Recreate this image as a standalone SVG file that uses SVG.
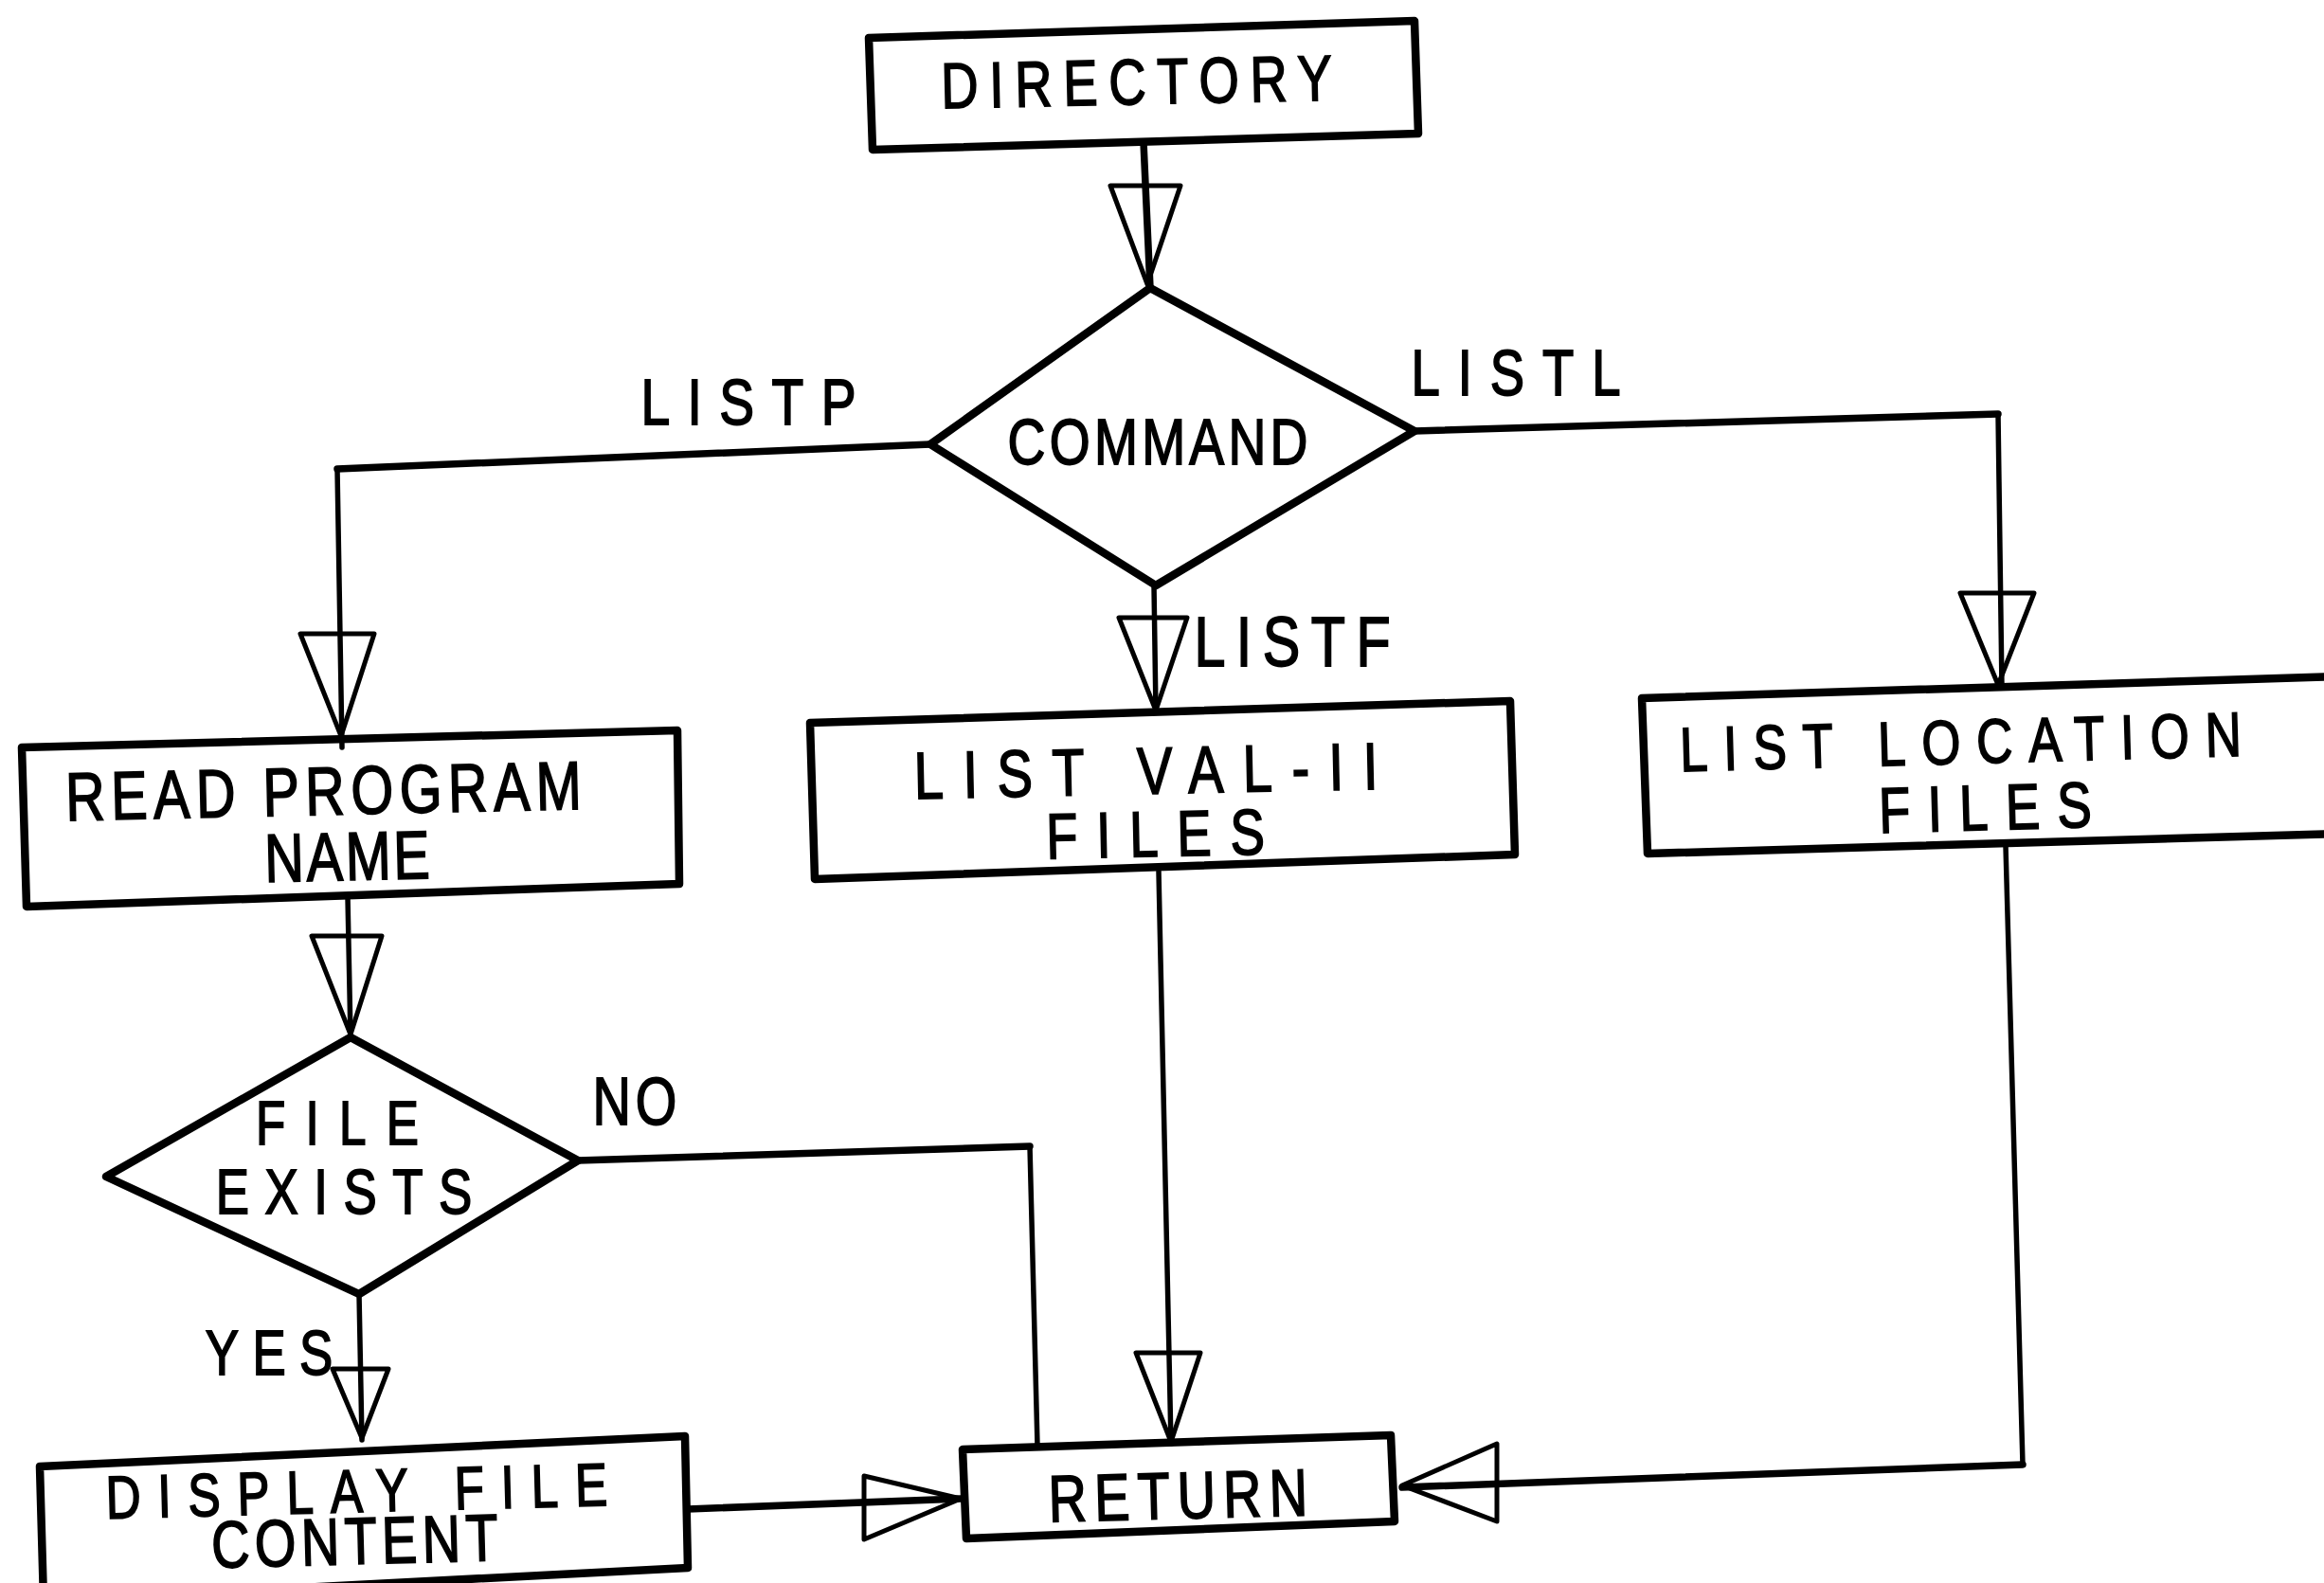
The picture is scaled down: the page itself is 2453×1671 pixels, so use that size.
<svg xmlns="http://www.w3.org/2000/svg" width="2453" height="1671" viewBox="0 0 2453 1671">
<style>
.box{fill:none;stroke:#000;stroke-width:8.5;stroke-linejoin:round}
.dia{fill:none;stroke:#000;stroke-width:8.5;stroke-linejoin:round}
.ln{fill:none;stroke:#000;stroke-width:7.5;stroke-linejoin:round;stroke-linecap:round}
.thin{fill:none;stroke:#000;stroke-width:5.5;stroke-linecap:round}
.ah{fill:none;stroke:#000;stroke-width:5;stroke-linejoin:round}
text{font-family:"Liberation Sans",Arial,sans-serif;fill:#000;stroke:#000;stroke-width:1.8;text-anchor:middle}
</style>
<rect width="2453" height="1671" fill="#fff"/>
<g id="connectors">
<path class="ln" d="M1207,150 L1214,304"/>
<polygon class="ah" points="1172,196 1246,196 1211,300"/>
<path class="ln" d="M982,469 L356,495"/>
<path class="thin" d="M356,495 L361,789"/>
<polygon class="ah" points="317,669 395,669 360,777"/>
<path class="thin" d="M1218,618 L1220,752"/>
<polygon class="ah" points="1181,652 1253,652 1220,750"/>
<path class="ln" d="M1493,455 L2109,437"/>
<path class="thin" d="M2109,437 L2113,726"/>
<polygon class="ah" points="2069,626 2147,626 2109,723"/>
<path class="thin" d="M367,947 L370,1095"/>
<polygon class="ah" points="329,988 403,988 370,1092"/>
<path class="ln" d="M610,1225 L1087,1210"/>
<path class="thin" d="M1087,1210 L1095,1526"/>
<path class="thin" d="M379,1366 L382,1520"/>
<polygon class="ah" points="351,1445 410,1445 382,1518"/>
<path class="ln" d="M726,1593 L1014,1582"/>
<polygon class="ah" points="912,1558 912,1625 1014,1582"/>
<path class="thin" d="M1223,920 L1236,1524"/>
<polygon class="ah" points="1199,1428 1267,1428 1236,1522"/>
<path class="thin" d="M2117,893 L2135,1546"/>
<path class="ln" d="M2135,1546 L1480,1570"/>
<polygon class="ah" points="1580,1524 1580,1606 1480,1568"/>
</g>
<g id="directory">
<polygon class="box" points="917,40 1493,22 1497,141 921,158"/>
<text transform="rotate(-1.2 1200 110) translate(1200 110) scale(0.8 1)" font-size="68" textLength="516" lengthAdjust="spacing">DIRECTORY</text>
</g>
<g id="command">
<polygon class="dia" points="1214,304 1493,455 1220,618 982,469"/>
<text transform="translate(1222 490) scale(0.8 1)" font-size="69" textLength="396" lengthAdjust="spacing">COMMAND</text>
</g>
<g id="label-listp"><text transform="translate(790 448) scale(0.8 1)" font-size="69" textLength="284" lengthAdjust="spacing">LISTP</text></g>
<g id="label-listl"><text transform="translate(1600 417) scale(0.8 1)" font-size="68" textLength="276" lengthAdjust="spacing">LISTL</text></g>
<g id="label-listf"><text transform="translate(1364 703) scale(0.8 1)" font-size="74" textLength="259" lengthAdjust="spacing">LISTF</text></g>
<g id="read-program">
<polygon class="box" points="23,789 715,771 717,933 28,957"/>
<text transform="rotate(-1.3 342 860) translate(342 860) scale(0.8 1)" font-size="72" textLength="681" lengthAdjust="spacing">READ PROGRAM</text>
<text transform="rotate(-1.3 367 929) translate(367 929) scale(0.8 1)" font-size="72" textLength="218" lengthAdjust="spacing">NAME</text>
</g>
<g id="list-val">
<polygon class="box" points="855,763 1594,740 1599,902 860,928"/>
<text transform="rotate(-1.2 1210 838) translate(1210 838) scale(0.8 1)" font-size="70" textLength="612" lengthAdjust="spacing">LIST VAL-II</text>
<text transform="rotate(-1.2 1220 904) translate(1220 904) scale(0.8 1)" font-size="68" textLength="288" lengthAdjust="spacing">FILES</text>
</g>
<g id="list-location">
<polygon class="box" points="1733,737 2470,714 2470,880 1739,901"/>
<text transform="rotate(-1.6 2070 806) translate(2070 806) scale(0.8 1)" font-size="66" textLength="741" lengthAdjust="spacing">LIST LOCATION</text>
<text transform="rotate(-1.6 2096 876) translate(2096 876) scale(0.8 1)" font-size="68" textLength="281" lengthAdjust="spacing">FILES</text>
</g>
<g id="file-exists">
<polygon class="dia" points="370,1095 610,1225 379,1366 112,1242"/>
<text transform="translate(356 1208) scale(0.8 1)" font-size="64" textLength="215" lengthAdjust="spacing">FILE</text>
<text transform="translate(363 1281) scale(0.8 1)" font-size="66" textLength="338" lengthAdjust="spacing">EXISTS</text>
</g>
<g id="label-no"><text transform="translate(670 1187) scale(0.8 1)" font-size="70" textLength="111" lengthAdjust="spacing">NO</text></g>
<g id="label-yes"><text transform="translate(284 1451) scale(0.8 1)" font-size="66" textLength="168" lengthAdjust="spacing">YES</text></g>
<g id="display-file">
<polygon class="box" points="42,1548 723,1516 726,1655 46,1690"/>
<text transform="rotate(-1.5 377 1596) translate(377 1596) scale(0.8 1)" font-size="64" textLength="662" lengthAdjust="spacing">DISPLAY FILE</text>
<text transform="rotate(-1.5 375 1651) translate(375 1651) scale(0.8 1)" font-size="70" textLength="378" lengthAdjust="spacing">CONTENT</text>
</g>
<g id="return">
<polygon class="box" points="1016,1530 1468,1515 1472,1606 1020,1624"/>
<text transform="rotate(-1.5 1244 1603) translate(1244 1603) scale(0.8 1)" font-size="70" textLength="342" lengthAdjust="spacing">RETURN</text>
</g>
</svg>
